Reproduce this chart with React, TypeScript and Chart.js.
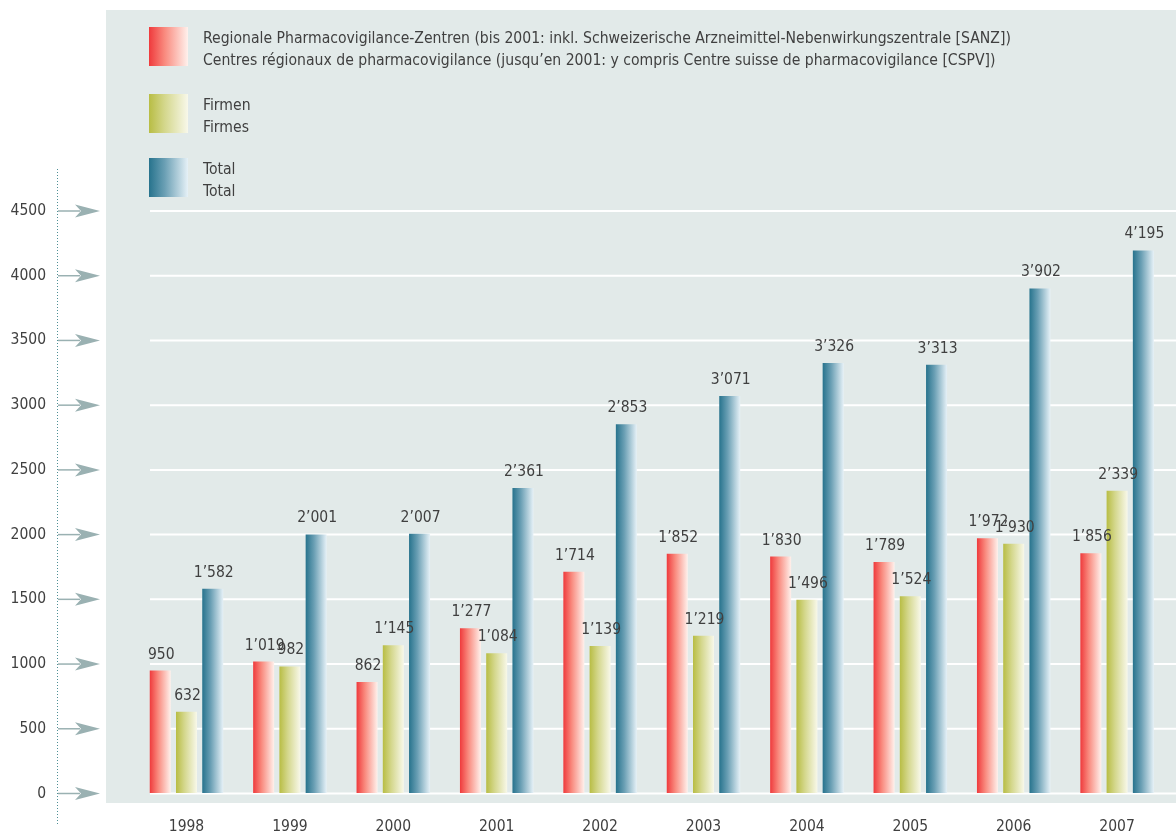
import React, { useEffect, useRef } from "react";
import { Chart, registerables } from "chart.js";

Chart.register(...registerables);

const years = ["1998", "1999", "2000", "2001", "2002", "2003", "2004", "2005", "2006", "2007"];
const regionalValues = [950, 1019, 862, 1277, 1714, 1852, 1830, 1789, 1972, 1856];
const firmenValues = [632, 982, 1145, 1084, 1139, 1219, 1496, 1524, 1930, 2339];
const totalValues = [1582, 2001, 2007, 2361, 2853, 3071, 3326, 3313, 3902, 4195];

const legendRegional = [
  "Regionale Pharmacovigilance-Zentren (bis 2001: inkl. Schweizerische Arzneimittel-Nebenwirkungszentrale [SANZ])",
  "Centres régionaux de pharmacovigilance (jusqu’en 2001: y compris Centre suisse de pharmacovigilance [CSPV])",
];
const legendFirmen = ["Firmen", "Firmes"];
const legendTotal = ["Total", "Total"];

const yMin = 0;
const yMax = 4500;
const yStep = 500;

const FONT = '"DejaVu Sans Condensed", "Liberation Sans Narrow", sans-serif';
const TEXT = "#404040";

const gradientStops: string[][] = [
  ["#ef3a3c", "#f98a7e", "#fff1ec"],
  ["#b8bd44", "#d4d78c", "#f8f8ea"],
  ["#27738d", "#6a9fb4", "#e6f1f7"],
];

function fmt(n: number): string {
  if (n < 1000) return String(n);
  const th = Math.floor(n / 1000);
  const rest = String(n % 1000).padStart(3, "0");
  return th + "’" + rest;
}

function makeGrad(ctx: CanvasRenderingContext2D, x0: number, x1: number, stops: string[]) {
  const g = ctx.createLinearGradient(x0, 0, x1, 0);
  g.addColorStop(0, stops[0]);
  g.addColorStop(0.4, stops[1]);
  g.addColorStop(1, stops[2]);
  return g;
}

const decorPlugin = {
  id: "decor",
  beforeDraw(chart: any) {
    const ctx = chart.ctx as CanvasRenderingContext2D;
    ctx.save();
    ctx.fillStyle = "#e2eae9";
    ctx.fillRect(106, 10, 1070, 793);
    ctx.restore();
  },
  beforeDatasetsDraw(chart: any) {
    const ctx = chart.ctx as CanvasRenderingContext2D;
    const ys = chart.scales.y;
    ctx.save();
    // white gridlines
    ctx.strokeStyle = "#ffffff";
    ctx.lineWidth = 2;
    for (let v = yMin; v <= yMax; v += yStep) {
      const y = ys.getPixelForValue(v);
      ctx.beginPath();
      ctx.moveTo(150, y);
      ctx.lineTo(1176, y);
      ctx.stroke();
    }
    // dotted axis line
    ctx.strokeStyle = "#4e8f95";
    ctx.lineWidth = 1;
    ctx.setLineDash([1, 2]);
    ctx.beginPath();
    ctx.moveTo(57.5, 169);
    ctx.lineTo(57.5, 826);
    ctx.stroke();
    ctx.setLineDash([]);
    // arrows
    ctx.strokeStyle = "#9ab1b2";
    ctx.fillStyle = "#9ab1b2";
    ctx.lineWidth = 1.5;
    for (let v = yMin; v <= yMax; v += yStep) {
      const y = ys.getPixelForValue(v);
      ctx.beginPath();
      ctx.moveTo(58, y);
      ctx.lineTo(80, y);
      ctx.stroke();
      ctx.beginPath();
      ctx.moveTo(75, y - 6.5);
      ctx.lineTo(100, y);
      ctx.lineTo(75, y + 6.5);
      ctx.lineTo(81, y);
      ctx.closePath();
      ctx.fill();
    }
    ctx.restore();
    // bar gradients
    chart.data.datasets.forEach((_ds: any, i: number) => {
      const meta = chart.getDatasetMeta(i);
      meta.data.forEach((el: any) => {
        const x0 = el.x - el.width / 2;
        const x1 = el.x + el.width / 2;
        const g = makeGrad(ctx, x0, x1, gradientStops[i]);
        el.options = Object.assign({}, el.options, { backgroundColor: g });
      });
    });
  },
  afterDatasetsDraw(chart: any) {
    const ctx = chart.ctx as CanvasRenderingContext2D;
    ctx.save();
    ctx.font = `15.5px ${FONT}`;
    ctx.fillStyle = TEXT;
    ctx.textAlign = "center";
    ctx.textBaseline = "alphabetic";
    chart.data.datasets.forEach((ds: any, i: number) => {
      const meta = chart.getDatasetMeta(i);
      meta.data.forEach((el: any, j: number) => {
        ctx.fillText(fmt(ds.data[j]), el.x + 1, el.y - 12);
      });
    });
    ctx.restore();
  },
  afterDraw(chart: any) {
    const ctx = chart.ctx as CanvasRenderingContext2D;
    const items = [
      { top: 27, lines: legendRegional, stops: gradientStops[0] },
      { top: 94, lines: legendFirmen, stops: gradientStops[1] },
      { top: 158, lines: legendTotal, stops: gradientStops[2] },
    ];
    ctx.save();
    ctx.font = `15.6px ${FONT}`;
    ctx.textAlign = "left";
    ctx.textBaseline = "middle";
    items.forEach((it) => {
      ctx.fillStyle = makeGrad(ctx, 149, 188, it.stops);
      ctx.fillRect(149, it.top, 39, 39);
      ctx.fillStyle = TEXT;
      ctx.fillText(it.lines[0], 203, it.top + 12);
      ctx.fillText(it.lines[1], 203, it.top + 34);
    });
    ctx.restore();
  },
};

export default function App() {
  const ref = useRef<HTMLCanvasElement>(null);
  useEffect(() => {
    document.body.style.margin = "0";
    Chart.defaults.font.family = FONT;
    const chart = new Chart(ref.current as HTMLCanvasElement, {
      type: "bar",
      data: {
        labels: years,
        datasets: [
          { label: "Regionale Pharmacovigilance-Zentren", data: regionalValues, backgroundColor: () => "#ef3a3c" },
          { label: "Firmen", data: firmenValues, backgroundColor: () => "#b8bd44" },
          { label: "Total", data: totalValues, backgroundColor: () => "#27738d" },
        ],
      },
      options: {
        responsive: false,
        animation: false,
        devicePixelRatio: 1,
        datasets: {
          bar: { categoryPercentage: 0.7616, barPercentage: 0.8 },
        } as any,
        layout: { padding: { left: 0, top: 211, right: 7.2, bottom: 0 } },
        plugins: { legend: { display: false }, tooltip: { enabled: false } },
        scales: {
          x: {
            grid: { display: false, drawTicks: false },
            border: { display: false },
            ticks: { color: TEXT, font: { size: 15.5, family: FONT }, padding: 24 },
            afterFit: (s: any) => {
              s.height = 38.5;
            },
          },
          y: {
            min: yMin,
            max: yMax,
            grid: {
              display: true,
              drawOnChartArea: false,
              drawTicks: true,
              tickLength: 88.8,
              color: "rgba(0,0,0,0)",
            },
            border: { display: false },
            ticks: {
              stepSize: yStep,
              color: TEXT,
              font: { size: 15.5, family: FONT },
              padding: 0,
              callback: (v: any) => String(v),
            },
            afterFit: (s: any) => {
              s.width = 134.8;
            },
          },
        },
      },
      plugins: [decorPlugin],
    });
    return () => chart.destroy();
  }, []);
  return (
    <div style={{ width: 1176, height: 832, position: "relative" }}>
      <canvas ref={ref} width={1176} height={832} style={{ display: "block" }} />
    </div>
  );
}
